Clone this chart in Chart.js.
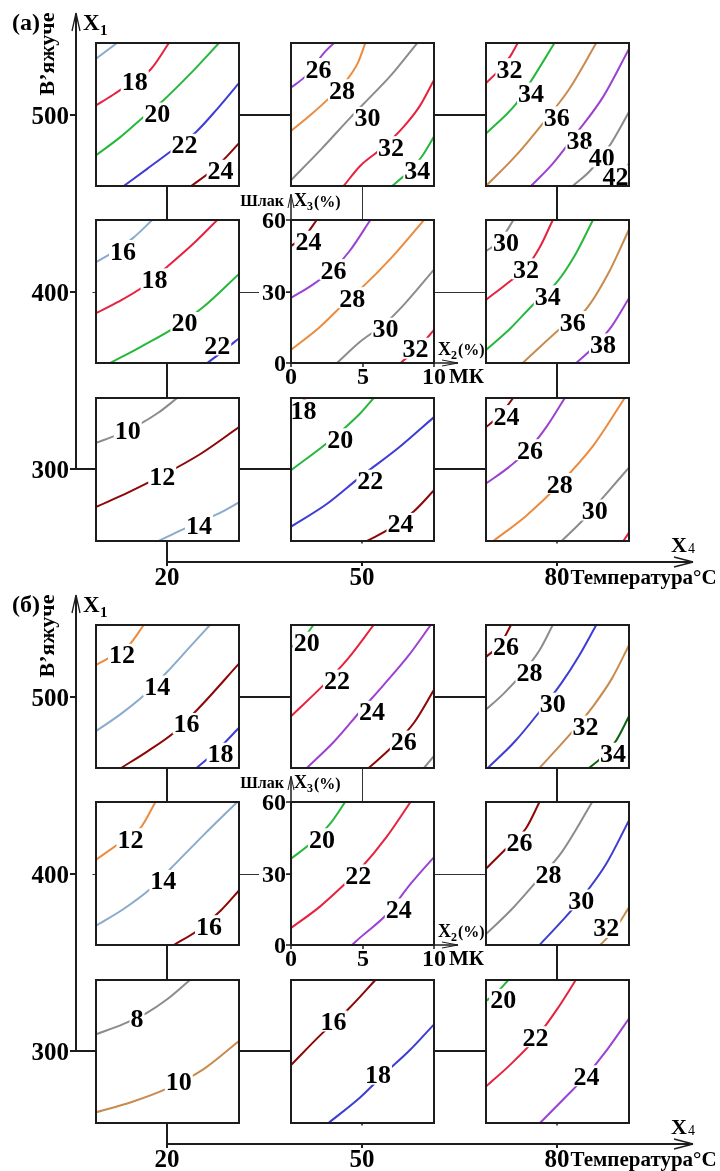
<!DOCTYPE html>
<html lang="uk">
<head>
<meta charset="utf-8">
<title>Contour grid</title>
<script src="https://cdn.jsdelivr.net/npm/chart.js"></script>
<style>
  html, body { margin:0; padding:0; background:#fff; }
  #page { position:relative; width:720px; height:1171px; overflow:hidden; background:#fff; }
  #page canvas { position:absolute; }
</style>
</head>
<body>
<div id="page"></div>
<script>
// ================= DATA =================
const X4_TICKS = [20, 50, 80];      // Температура, °C
const X1_TICKS = [500, 400, 300];   // В'яжуче
const X2_TICKS = [0, 5, 10];        // МК, %
const X3_TICKS = [0, 30, 60];       // Шлак, %
const PANELS = ['(а)', '(б)'];

// contour lines of every sub-plot: v = level, pts = [X2 %, X3 %], at = label point
// ---- panel (а) ----
const A_500_20 = [
  {v:16, pts:[[0,53.4],[1.47,60]], at:null},
  {v:18, pts:[[0,33.8],[1.2,38.3],[2.5,43.5],[3.8,48.8],[5.1,60]], at:[2.71,44.1]},
  {v:20, pts:[[0,12.9],[1.7,20.5],[3.46,29.7],[4.7,35.9],[6.5,46.5],[8.6,60]], at:[4.28,30.6]},
  {v:22, pts:[[1.94,0],[3.6,7.3],[5.33,15],[7,22.7],[8.5,32.5],[10,43.2]], at:[6.19,17.5]},
  {v:24, pts:[[6.66,0],[8,6],[9,11.5],[10,18]], at:[8.71,6.6]}
];
const A_500_50 = [
  {v:26, pts:[[0,41.3],[1,46],[2.4,56.5],[3,60]], at:[1.92,49.3]},
  {v:28, pts:[[0,23.1],[1.4,30],[2.74,37.3],[3.9,44.5],[4.7,52],[5.2,60]], at:[3.56,40.4]},
  {v:30, pts:[[0,2.4],[2.2,16],[4.2,29],[5.1,34.6],[7,46.5],[8.83,60]], at:[5.35,28.8]},
  {v:32, pts:[[3.68,0],[4.85,8.5],[6.4,16],[7.9,25],[9,33.5],[10,44.5]], at:[7.0,16.5]},
  {v:34, pts:[[7.08,0],[8.3,6.5],[9.2,12.8],[10,20.8]], at:[8.83,6.6]}
];
const A_500_80 = [
  {v:32, pts:[[0,43.2],[0.9,48.5],[1.7,54.5],[2.22,60]], at:[1.64,49.2]},
  {v:34, pts:[[0,22],[2.1,34.5],[3.04,43],[4.79,60]], at:[3.15,39]},
  {v:36, pts:[[0,0],[2.2,13.5],[4.2,28],[5.8,40.5],[7.71,60]], at:[4.95,29]},
  {v:38, pts:[[3.15,0],[4.67,9.4],[6.31,22],[8.2,37.5],[10,57.5]], at:[6.54,19.2]},
  {v:40, pts:[[6.07,0],[7.3,6.5],[8.6,16.5],[10,31]], at:[8.1,12.2]},
  {v:42, pts:[[9.0,0],[10,9.5]], at:[9.05,4.3]}
];
const A_400_20 = [
  {v:16, pts:[[0,42.3],[1.2,46.5],[2.6,52.5],[3.93,60]], at:[1.89,47.2]},
  {v:18, pts:[[0,20.9],[1.5,25.5],[3.3,32],[5,40.5],[6.8,50],[8.48,60]], at:[4.09,35.3]},
  {v:20, pts:[[1,0],[3.2,7],[5.44,14.6],[7.5,23.5],[10,37.4]], at:[6.19,17]},
  {v:22, pts:[[7.78,0],[9,5.5],[10,10.4]], at:[8.48,7.6]}
];
const A_400_50 = [
  {v:24, pts:[[0,49],[1.0,53.5],[1.8,60]], at:[1.22,51.1]},
  {v:26, pts:[[0,27.3],[1.5,32.8],[3,39.6],[4.1,47],[5.55,60]], at:[2.97,39.2]},
  {v:28, pts:[[0,5.5],[2,15],[3.9,26],[4.85,31],[7,44],[9.3,60]], at:[4.29,27.4]},
  {v:30, pts:[[3.21,0],[4.85,9],[6.6,16.7],[7.9,24.5],[10,39.2]], at:[6.6,14.6]},
  {v:32, pts:[[7.66,0],[9,7],[10,13.9]], at:[8.71,6.2]}
];
const A_400_80 = [
  {v:30, pts:[[0,46.9],[1,51.5],[1.92,60]], at:[1.4,50.7]},
  {v:32, pts:[[0,26.5],[1.5,33.5],[2.8,40],[3.8,49],[4.67,60]], at:[2.8,39.5]},
  {v:34, pts:[[0,5.5],[1.7,14.5],[3.39,25.1],[4.9,33.5],[6.2,45],[7.48,60]], at:[4.32,28.2]},
  {v:36, pts:[[2.57,0],[5.37,15.3],[6.96,22.3],[8.5,37],[10,56]], at:[6.07,17.4]},
  {v:38, pts:[[6.31,0],[7.5,6.5],[8.8,15.5],[10,27.2]], at:[8.18,8]}
];
const A_300_20 = [
  {v:10, pts:[[0,41.2],[1.5,44.5],[3,48.8],[4.4,54],[5.68,60]], at:[2.22,46.7]},
  {v:12, pts:[[0,14.3],[2.3,20.5],[4.63,27.5],[7.3,36.5],[10,47.8]], at:[4.63,27.2]},
  {v:14, pts:[[4.39,0],[6,4.7],[7.5,8.6],[8.8,12.2],[10,16.2]], at:[7.2,6.7]}
];
const A_300_50 = [
  {v:18, pts:[[0,55.4],[1.1,60]], at:[0.87,55]},
  {v:20, pts:[[0,29.7],[2.74,42.2],[4.85,53.6],[5.78,60]], at:[3.44,42.9]},
  {v:22, pts:[[0,6],[2.5,15.5],[4.85,26.9],[7.5,39],[10,52]], at:[5.55,25.5]},
  {v:24, pts:[[5.32,0],[7,5.5],[8.6,12.5],[10,21.3]], at:[7.66,7.4]}
];
const A_300_80 = [
  {v:24, pts:[[0,47.8],[1,53],[1.9,60]], at:[1.44,52.6]},
  {v:26, pts:[[0,24.1],[1.6,31],[3.07,39],[4.3,48.5],[5.51,60]], at:[3.07,38.3]},
  {v:28, pts:[[0.51,0],[2.8,10.5],[5.16,24],[7.5,40],[9.7,60]], at:[5.16,24.1]},
  {v:30, pts:[[5.28,0],[6.67,8.1],[8.42,19.9],[10,30.8]], at:[7.6,13]},
  {v:32, pts:[[9.6,0],[10,3.5]], at:null}
];
// ---- panel (б) ----
const B_500_20 = [
  {v:12, pts:[[0,43.2],[1,46.5],[2.3,51.5],[3.34,60]], at:[1.82,47.7]},
  {v:14, pts:[[0,15.5],[1.7,22.5],[3.34,30.4],[5.21,41.8],[6.6,51],[7.97,60]], at:[4.28,34.4]},
  {v:16, pts:[[1.75,0],[3.6,7],[5.44,14.8],[7.31,25.9],[10,43.8]], at:[6.33,18.7]},
  {v:18, pts:[[7.03,0],[8.4,7],[10,16.9]], at:[8.71,6.2]}
];
const B_500_50 = [
  {v:20, pts:[[0,50.7],[0.8,54],[1.57,60]], at:[1.1,52.8]},
  {v:22, pts:[[0,21.7],[2.39,35.5],[4.0,46],[5.78,60]], at:[3.21,36.9]},
  {v:24, pts:[[1.1,0],[3,11],[4.85,23.8],[6.5,35],[8.2,47],[9.77,60]], at:[5.67,23.8]},
  {v:26, pts:[[5.43,0],[7,8.5],[8.6,19],[10,32.8]], at:[7.89,11.3]},
  {v:28, pts:[[9.3,0],[10,5.1]], at:null}
];
const B_500_80 = [
  {v:26, pts:[[0,46.6],[1,52],[1.75,60]], at:[1.4,51]},
  {v:28, pts:[[0,24.5],[1.2,31],[2.34,38.3],[3.74,49.4],[4.67,60]], at:[3.04,40.4]},
  {v:30, pts:[[0.12,0],[2,11],[3.86,24.5],[5.26,35.5],[6.5,47],[7.71,60]], at:[4.67,27.2]},
  {v:32, pts:[[3.74,0],[6.07,15.5],[7.5,26],[8.8,37.5],[10,51.5]], at:[6.96,17.6]},
  {v:34, pts:[[7.2,0],[8.2,5],[9.1,11.5],[10,21.7]], at:[8.88,6.2]}
];
const B_400_20 = [
  {v:12, pts:[[0,35.8],[1.59,42.5],[3.1,49],[4.16,60]], at:[2.41,44.6]},
  {v:14, pts:[[0,8.1],[1.9,15],[3.81,23.6],[5.21,32],[7.5,46],[9.88,60]], at:[4.7,27.1]},
  {v:16, pts:[[5.44,0],[7.08,6],[8.71,14.4],[10,22.9]], at:[7.9,8.1]}
];
const B_400_50 = [
  {v:20, pts:[[0,36.2],[1.34,42.5],[2.74,50.9],[3.79,60]], at:[2.16,44.6]},
  {v:22, pts:[[0,7.1],[2,16],[3.91,26.4],[4.85,32],[6.7,45.5],[8.36,60]], at:[4.71,29.4]},
  {v:24, pts:[[4.26,0],[4.85,3.2],[6.72,13],[8.36,25.6],[10,36.9]], at:[7.54,15.1]}
];
const B_400_80 = [
  {v:26, pts:[[0,32],[1.4,40.4],[2.8,49],[3.74,60]], at:[2.34,43.2]},
  {v:28, pts:[[0,4.6],[1.8,15],[3.5,26.5],[5.3,39],[7.43,60]], at:[4.37,29.9]},
  {v:30, pts:[[3.74,0],[5.3,10],[6.66,19.5],[8.4,34],[10,52.3]], at:[6.66,18.9]},
  {v:32, pts:[[7.99,0],[9,6.5],[10,15.8]], at:[8.41,7.4]}
];
const B_300_20 = [
  {v:8,  pts:[[0,37.2],[1.9,41.5],[3.5,46],[5,52],[6.57,60]], at:[2.87,44.2]},
  {v:10, pts:[[0,4.5],[2.5,8.8],[5,14.5],[7.5,22.5],[10,34.4]], at:[5.79,17.7]}
];
const B_300_50 = [
  {v:16, pts:[[0,24.3],[2.16,37.5],[3.91,47.2],[5.9,60]], at:[2.97,42.8]},
  {v:18, pts:[[2.62,0],[4.85,10.8],[6.5,20.5],[8.3,30.5],[10,41.4]], at:[6.08,20.5]}
];
const B_300_80 = [
  {v:20, pts:[[0,51.2],[0.8,55],[1.56,60]], at:[1.2,51.9]},
  {v:22, pts:[[0,15.3],[1.7,24.5],[3.47,35.5],[5,48],[6.28,60]], at:[3.47,36.2]},
  {v:24, pts:[[3.77,0],[5.5,10.5],[7.02,20],[8.5,31],[10,43.8]], at:[7.02,19.8]}
];

const GRIDS = [
  [[A_500_20, A_500_50, A_500_80], [A_400_20, A_400_50, A_400_80], [A_300_20, A_300_50, A_300_80]],
  [[B_500_20, B_500_50, B_500_80], [B_400_20, B_400_50, B_400_80], [B_300_20, B_300_50, B_300_80]]
];

// ================= STYLE =================
const PALETTE = {
  lightblue:'#8aabcc', red:'#e6223e', green:'#26b83b', blue:'#3d3dd3',
  darkred:'#8e0606', purple:'#9c42d2', orange:'#ec8b3e', gray:'#8c8c8c',
  brown:'#c98b4d', darkgreen:'#0b640b'
};
const LEVEL_STYLE = [
  {10:'gray',12:'darkred',14:'lightblue',16:'lightblue',18:'red',20:'green',22:'blue',24:'darkred',
   26:'purple',28:'orange',30:'gray',32:'red',34:'green',36:'brown',38:'purple',40:'gray',42:'lightblue'},
  {8:'gray',10:'brown',12:'orange',14:'lightblue',16:'darkred',18:'blue',20:'green',22:'red',
   24:'purple',26:'darkred',28:'gray',30:'blue',32:'brown',34:'darkgreen'}
];
const FONT = '"Liberation Serif", "Times New Roman", serif';
const INK = '#1c1c1c';
const LABEL_SIZE = 26;
const TICK_SIZE = 25;

// ================= LAYOUT =================
const W = 720;
const PANEL_TOP = [0, 582];
const PANEL_H = [600, 589];
const BOX = 143;
const AXIS_X = 76;
const X_ANCHOR = [20, 167, 80, 557];     // value, pixel
const Y_ANCHOR = [500, 114.5, 300, 469]; // value, pixel

function xRange(v1, p1, v2, p2, len) {
  const k = (p2 - p1) / (v2 - v1); const min = v1 - p1 / k; return {min, max: min + len / k};
}
function yRange(v1, p1, v2, p2, len) {
  const k = (p2 - p1) / (v1 - v2); const max = v1 + p1 / k; return {min: max - len / k, max};
}
function mkCanvas(left, top, w, h) {
  const c = document.createElement('canvas');
  c.width = w; c.height = h;
  c.style.left = left + 'px'; c.style.top = top + 'px';
  c.style.width = w + 'px'; c.style.height = h + 'px';
  document.getElementById('page').appendChild(c);
  return c;
}
function seg(ctx, x1, y1, x2, y2, w, col) {
  ctx.beginPath(); ctx.lineWidth = w; ctx.strokeStyle = col || INK;
  ctx.moveTo(x1, y1); ctx.lineTo(x2, y2); ctx.stroke();
}
function txt(ctx, s, x, y, size, align, weight) {
  ctx.font = (weight || 'bold') + ' ' + size + 'px ' + FONT;
  ctx.textAlign = align || 'left'; ctx.textBaseline = 'alphabetic';
  ctx.fillStyle = '#000'; ctx.fillText(s, x, y);
  return ctx.measureText(s).width;
}

// ---------- big frame (X1 / X4 axes and connectors) ----------
function framePlugin(panelLabel) {
  return {
    id: 'frame',
    afterDraw(chart) {
      const ctx = chart.ctx, xs = chart.scales.x, ys = chart.scales.y;
      const X = v => Math.round(xs.getPixelForValue(v));
      const Y = v => Math.round(ys.getPixelForValue(v));
      const [c0, c1, c2] = X4_TICKS.map(X);
      const [r0, r1, r2] = X1_TICKS.map(Y);
      const axisY = r2 + 93;
      const half = BOX / 2;
      ctx.save();
      ctx.lineCap = 'butt';
      // vertical X1 axis
      seg(ctx, AXIS_X, 14, AXIS_X, r2, 2);
      seg(ctx, AXIS_X, 13, AXIS_X - 4, 31, 1.3);
      seg(ctx, AXIS_X, 13, AXIS_X + 4, 31, 1.3);
      X1_TICKS.forEach(v => seg(ctx, AXIS_X - 6, Y(v), AXIS_X, Y(v), 2));
      // connectors
      seg(ctx, AXIS_X, r2, c2, r2, 2);
      seg(ctx, c0, r0, c2, r0, 2);
      seg(ctx, c0, r1 + 0.5, c2, r1 + 0.5, 1, '#333');
      seg(ctx, c0 - half - 3, r1 + 0.5, c0 - half, r1 + 0.5, 1, '#333');
      seg(ctx, c0, r0, c0, axisY + 4, 2);
      seg(ctx, c2, r0, c2, r2, 2);
      seg(ctx, c1 + 0.5, r0, c1 + 0.5, r1, 1, '#333');
      // X4 axis
      seg(ctx, c0, axisY, 693, axisY, 2);
      seg(ctx, 693, axisY, 674, axisY - 5, 1.3);
      seg(ctx, 693, axisY, 674, axisY + 5, 1.3);
      [c1, c2].forEach(x => { seg(ctx, x, axisY, x, axisY + 4, 2); seg(ctx, x, r2 + half, x, r2 + half + 3, 1.5); });
      // tick labels
      X1_TICKS.forEach(v => txt(ctx, String(v), 69, Y(v) + 8.5, TICK_SIZE, 'right'));
      X4_TICKS.forEach(v => txt(ctx, String(v), X(v), axisY + 23, TICK_SIZE, 'center'));
      ctx.font = 'bold ' + TICK_SIZE + 'px ' + FONT;
      const w80 = ctx.measureText(String(X4_TICKS[2])).width;
      txt(ctx, 'Температура°C', c2 + w80 / 2 + 1, axisY + 22, 21, 'left');
      // axis titles
      txt(ctx, 'X', 671, axisY - 10, 22, 'left');
      txt(ctx, '4', 688, axisY - 9, 14, 'left', 'normal');
      txt(ctx, 'X', 83, 30, 23, 'left');
      txt(ctx, '1', 100, 35, 15, 'left');
      txt(ctx, panelLabel, 12, 29.5, 24, 'left');
      ctx.save();
      ctx.translate(54, 54); ctx.rotate(-Math.PI / 2);
      txt(ctx, 'В’яжуче', 0, 0, 22, 'center');
      ctx.restore();
      ctx.restore();
    }
  };
}

// ---------- contour sub-plot ----------
function contourPlugin(lines, isCenter) {
  return {
    id: 'contour',
    beforeDraw(chart) {
      const {ctx, chartArea: a} = chart;
      ctx.save(); ctx.fillStyle = '#fff';
      ctx.fillRect(a.left, a.top, a.right - a.left, a.bottom - a.top);
      ctx.restore();
    },
    afterDatasetsDraw(chart) {
      const ctx = chart.ctx, xs = chart.scales.x, ys = chart.scales.y;
      ctx.save();
      ctx.font = 'bold ' + LABEL_SIZE + 'px ' + FONT;
      lines.forEach(l => {
        if (!l.at) return;
        const s = String(l.v);
        const px = xs.getPixelForValue(l.at[0]), py = ys.getPixelForValue(l.at[1]);
        ctx.font = 'bold ' + LABEL_SIZE + 'px ' + FONT;
        const w = ctx.measureText(s).width;
        ctx.fillStyle = '#fff';
        ctx.fillRect(px - w / 2 - 1, py - 10.5, w + 2, 21);
        txt(ctx, s, px, py + 9, LABEL_SIZE, 'center');
      });
      ctx.restore();
    },
    afterDraw(chart) {
      const ctx = chart.ctx, a = chart.chartArea, xs = chart.scales.x, ys = chart.scales.y;
      ctx.save();
      ctx.lineWidth = 2; ctx.strokeStyle = INK;
      ctx.strokeRect(a.left, a.top, a.right - a.left, a.bottom - a.top);
      if (isCenter) {
        // X3 axis arrow
        seg(ctx, a.left, a.top, a.left, a.top - 25, 1.5);
        seg(ctx, a.left, a.top - 26, a.left - 3, a.top - 12, 1);
        seg(ctx, a.left, a.top - 26, a.left + 3, a.top - 12, 1);
        // X2 axis arrow
        seg(ctx, a.right, a.bottom, a.right + 24, a.bottom, 1.5);
        seg(ctx, a.right + 24, a.bottom, a.right + 8, a.bottom - 3, 1);
        seg(ctx, a.right + 24, a.bottom, a.right + 8, a.bottom + 3, 1);
        X3_TICKS.forEach(v => {
          const y = Math.round(ys.getPixelForValue(v));
          ctx.fillStyle = '#fff'; ctx.fillRect(a.left - 32, y - 9, 27, 18);
          seg(ctx, a.left - 5, y, a.left, y, 1.5);
          txt(ctx, String(v), a.left - 5, y + 8, 24, 'right');
        });
        X2_TICKS.forEach((v, i) => {
          const x = Math.round(xs.getPixelForValue(v));
          seg(ctx, x, a.bottom, x, a.bottom + 4, 1.5);
          const w = txt(ctx, String(v), x, a.bottom + 21, 24, 'center');
          if (i === X2_TICKS.length - 1) txt(ctx, 'МК', x + w / 2 + 3, a.bottom + 20, 21, 'left');
        });
        // axis titles
        txt(ctx, 'Шлак', a.left - 7, a.top - 14, 16, 'right');
        let x = a.left + 3;
        x += txt(ctx, 'X', x, a.top - 14, 18, 'left');
        x += txt(ctx, '3', x, a.top - 10, 12, 'left');
        txt(ctx, '(%)', x + 1, a.top - 13, 16, 'left');
        x = a.right + 4;
        x += txt(ctx, 'X', x, a.bottom - 8, 18, 'left');
        x += txt(ctx, '2', x, a.bottom - 4, 12, 'left');
        txt(ctx, '(%)', x + 1, a.bottom - 8, 16, 'left');
      }
      ctx.restore();
    }
  };
}

function contourChart(L, T, lines, colorOf, isCenter) {
  const pad = isCenter ? {left:60, right:60, top:32, bottom:32} : {left:3, right:3, top:3, bottom:3};
  const w = BOX + pad.left + pad.right, h = BOX + pad.top + pad.bottom;
  const c = mkCanvas(L - pad.left, T - pad.top, w, h);
  return new Chart(c, {
    type: 'scatter',
    data: { datasets: lines.map(l => ({
      label: String(l.v),
      data: l.pts.map(p => ({x: p[0], y: p[1]})),
      showLine: true, borderColor: colorOf(l.v), borderWidth: 2,
      pointRadius: 0, pointHoverRadius: 0, cubicInterpolationMode: 'monotone', fill: false
    })) },
    options: {
      animation: false, responsive: false, devicePixelRatio: 1, events: [],
      layout: { padding: pad },
      plugins: { legend: {display: false}, tooltip: {enabled: false} },
      scales: {
        x: { type: 'linear', min: X2_TICKS[0], max: X2_TICKS[X2_TICKS.length - 1], display: false },
        y: { type: 'linear', min: X3_TICKS[0], max: X3_TICKS[X3_TICKS.length - 1], display: false }
      }
    },
    plugins: [contourPlugin(lines, isCenter)]
  });
}

PANELS.forEach((label, p) => {
  const top = PANEL_TOP[p], H = PANEL_H[p];
  const cv = mkCanvas(0, top, W, H);
  const xr = xRange(X_ANCHOR[0], X_ANCHOR[1], X_ANCHOR[2], X_ANCHOR[3], W);
  const yr = yRange(Y_ANCHOR[0], Y_ANCHOR[1], Y_ANCHOR[2], Y_ANCHOR[3], H);
  const bg = new Chart(cv, {
    type: 'scatter',
    data: { datasets: [] },
    options: {
      animation: false, responsive: false, devicePixelRatio: 1, events: [],
      layout: { padding: 0 },
      plugins: { legend: {display: false}, tooltip: {enabled: false} },
      scales: {
        x: { type: 'linear', display: false, min: xr.min, max: xr.max },
        y: { type: 'linear', display: false, min: yr.min, max: yr.max }
      }
    },
    plugins: [framePlugin(label)]
  });
  X1_TICKS.forEach((r, i) => X4_TICKS.forEach((c, j) => {
    const cx = bg.scales.x.getPixelForValue(c), cy = bg.scales.y.getPixelForValue(r);
    const L = Math.round(cx - BOX / 2), T = Math.round(cy - BOX / 2) + top;
    contourChart(L, T, GRIDS[p][i][j], v => PALETTE[LEVEL_STYLE[p][v]], i === 1 && j === 1);
  }));
});
</script>
</body>
</html>
